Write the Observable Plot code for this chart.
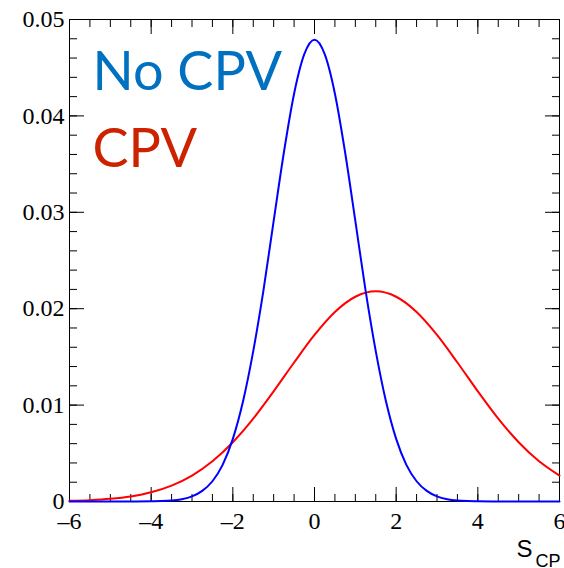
<!DOCTYPE html>
<html>
<head>
<meta charset="utf-8">
<script src="https://cdn.jsdelivr.net/npm/d3@7"></script>
<script src="https://cdn.jsdelivr.net/npm/@observablehq/plot@0.6"></script>
<style>
  html, body { margin: 0; padding: 0; background: white; }
</style>
</head>
<body>
<div id="chart"></div>
<script>
// Blue curve (No CPV)
const blueX = [-6, -5, -4.5, -4, -3.75, -3.5, -3.25, -3, -2.75, -2.5, -2.25, -2, -1.75, -1.5, -1.25, -1, -0.75, -0.5, -0.25, 0,
  0.25, 0.5, 0.75, 1, 1.25, 1.5, 1.75, 2, 2.25, 2.5, 2.75, 3, 3.25, 3.5, 3.75, 4, 4.5, 5, 6];
const blueY = [0, 0, 0, 0.00002, 0.00004, 0.0001, 0.00024, 0.00053, 0.0011, 0.0021, 0.0038, 0.0065, 0.0104, 0.0156, 0.0219, 0.0291, 0.0362, 0.0423, 0.0464, 0.0479,
  0.0464, 0.0423, 0.0362, 0.0291, 0.0219, 0.0156, 0.0104, 0.0065, 0.0038, 0.0021, 0.0011, 0.00053, 0.00024, 0.0001, 0.00004, 0.00002, 0, 0, 0];

// Red curve (CPV)
const redX = [-6, -5.5, -5, -4.5, -4, -3.5, -3, -2.5, -2, -1.5, -1, -0.5, 0, 0.5, 1, 1.5, 2, 2.5, 3, 3.5, 4, 4.5, 5, 5.5, 6];
const redY = [0.00007, 0.00014, 0.00028, 0.00053, 0.00096, 0.00165, 0.00269, 0.00417, 0.00615, 0.0086, 0.01143, 0.01442, 0.01728, 0.01966, 0.02124, 0.0218,
  0.02124, 0.01966, 0.01728, 0.01442, 0.01143, 0.0086, 0.00615, 0.00417, 0.00269];

const xMajor = [-6, -4, -2, 0, 2, 4, 6];
const xMinor = d3.range(-6, 6.01, 0.5);
const xLabels = ["\u20136", "\u20134", "\u20132", "0", "2", "4", "6"];
const yMajor = [0, 0.01, 0.02, 0.03, 0.04, 0.05];
const yMinor = d3.range(0, 0.0501, 0.002);
const yLabels = ["0", "0.01", "0.02", "0.03", "0.04", "0.05"];
const legendLabels = ["No CPV", "CPV"];
const legendColors = ["#0070C0", "#CC2200"];

const blue = blueX.map((x, i) => ({x, y: blueY[i]}));
const red = redX.map((x, i) => ({x, y: redY[i]}));

const serif = "Liberation Serif";
const sans = "Liberation Sans";

const chart = Plot.plot({
  width: 564,
  height: 568,
  marginLeft: 69,
  marginRight: 5,
  marginTop: 19,
  marginBottom: 67,
  style: {fontFamily: "Liberation Serif", fontSize: "24px", background: "white", color: "black", overflow: "visible"},
  x: {domain: [-6, 6]},
  y: {domain: [0, 0.05]},
  marks: [
    // minor ticks (inside)
    Plot.axisX(xMinor, {anchor: "bottom", tickSize: -7, fill: "none", label: null}),
    Plot.axisX(xMinor, {anchor: "top", tickSize: -7, fill: "none", label: null}),
    Plot.axisY(yMinor, {anchor: "left", tickSize: -8, fill: "none", label: null}),
    Plot.axisY(yMinor, {anchor: "right", tickSize: -8, fill: "none", label: null}),
    // major ticks (inside)
    Plot.axisX(xMajor, {anchor: "bottom", tickSize: -14, fill: "none", label: null}),
    Plot.axisX(xMajor, {anchor: "top", tickSize: -14, fill: "none", label: null}),
    Plot.axisY(yMajor, {anchor: "left", tickSize: -15, fill: "none", label: null}),
    Plot.axisY(yMajor, {anchor: "right", tickSize: -15, fill: "none", label: null}),
    // tick labels (serif, as text marks)
    Plot.text(xMajor, {x: d => d, frameAnchor: "bottom", text: (d, i) => xLabels[i], lineAnchor: "bottom",
      dy: 27, fontFamily: serif, fontSize: 24, fill: "black"}),
    Plot.text(yMajor, {y: d => d, frameAnchor: "left", text: (d, i) => yLabels[i], textAnchor: "end", lineAnchor: "middle",
      dx: -5, fontFamily: serif, fontSize: 24, fill: "black"}),
    Plot.frame({stroke: "black", strokeWidth: 1}),
    Plot.line(red, {x: "x", y: "y", stroke: "#ff0000", strokeWidth: 2, curve: "monotone-x"}),
    Plot.line(blue, {x: "x", y: "y", stroke: "#0000ff", strokeWidth: 2, curve: "monotone-x"}),
    // legend texts
    Plot.text([legendLabels[0]], {frameAnchor: "top-left", text: d => d, textAnchor: "start", lineAnchor: "bottom",
      dx: 23, dy: 70, fill: legendColors[0], fontFamily: "Lato", fontSize: 54}),
    Plot.text([legendLabels[1]], {frameAnchor: "top-left", text: d => d, textAnchor: "start", lineAnchor: "bottom",
      dx: 23, dy: 147, fill: legendColors[1], fontFamily: "Lato", fontSize: 54}),
    // axis title S_CP
    Plot.text(["S"], {frameAnchor: "bottom-right", text: d => d, textAnchor: "end", lineAnchor: "bottom",
      dx: -27, dy: 55, fontFamily: sans, fontSize: 24, fill: "black"}),
    Plot.text(["CP"], {frameAnchor: "bottom-right", text: d => d, textAnchor: "end", lineAnchor: "bottom",
      dx: 1, dy: 65, fontFamily: sans, fontSize: 18, fill: "black"})
  ]
});
document.getElementById("chart").appendChild(chart);
</script>
</body>
</html>
